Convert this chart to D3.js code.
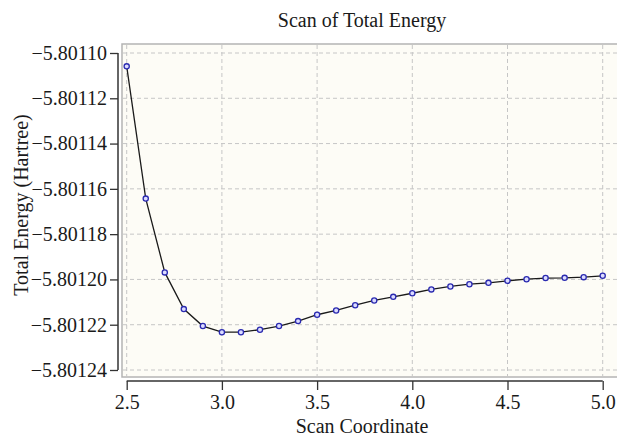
<!DOCTYPE html>
<html>
<head>
<meta charset="utf-8">
<script src="https://cdn.jsdelivr.net/npm/d3@7"></script>
<style>
  html, body { margin: 0; padding: 0; background: #fff; }
  svg { display: block; }
  text { font-family: "Liberation Serif", "Times New Roman", serif; fill: #1a1a1a; }
</style>
</head>
<body>
<svg id="chart" width="617" height="438"></svg>
<script>
const title = "Scan of Total Energy";
const xLabel = "Scan Coordinate";
const yLabel = "Total Energy (Hartree)";

const scanCoord = [2.5, 2.6, 2.7, 2.8, 2.9, 3.0, 3.1, 3.2, 3.3, 3.4, 3.5, 3.6, 3.7, 3.8, 3.9, 4.0, 4.1, 4.2, 4.3, 4.4, 4.5, 4.6, 4.7, 4.8, 4.9, 5.0];
const energy = [-5.8011059, -5.8011643, -5.8011969, -5.8012131, -5.8012206, -5.8012233, -5.8012233, -5.8012222, -5.8012206, -5.8012184, -5.8012156, -5.8012137, -5.8012114, -5.8012093, -5.8012077, -5.8012061, -5.8012044, -5.8012031, -5.8012021, -5.8012015, -5.8012006, -5.8011999, -5.8011994, -5.8011993, -5.8011990, -5.8011984];

const xMajorTicks = [2.5, 3.0, 3.5, 4.0, 4.5, 5.0];
const yMajorTicks = [-5.80110, -5.80112, -5.80114, -5.80116, -5.80118, -5.80120, -5.80122, -5.80124];
const xMinorStep = 0.05;
const yMinorStep = 0.00001;

const svg = d3.select("#chart");

const x = d3.scaleLinear().domain([2.5, 5.0]).range([126.7, 602.7]);
const y = d3.scaleLinear().domain([-5.80124, -5.80110]).range([370, 53]);

const frame = { left: 122, top: 44, bottom: 377, right: 630 };

// plot background
svg.append("rect")
  .attr("x", frame.left).attr("y", frame.top)
  .attr("width", frame.right - frame.left).attr("height", frame.bottom - frame.top)
  .attr("fill", "#fdfcf6")
  .attr("stroke", "#b4b4b4").attr("stroke-width", 1.5);

// grid
const grid = svg.append("g").attr("stroke", "#c6c6c6").attr("stroke-width", 1).attr("stroke-dasharray", "4,3");
grid.selectAll("line.gx").data(xMajorTicks).join("line")
  .attr("x1", d => x(d)).attr("x2", d => x(d))
  .attr("y1", frame.top + 1).attr("y2", frame.bottom - 1);
grid.selectAll("line.gy").data(yMajorTicks).join("line")
  .attr("y1", d => y(d)).attr("y2", d => y(d))
  .attr("x1", frame.left + 1).attr("x2", frame.right);

// minor tick values
const xMinor = d3.range(0, Math.round((5.0 - 2.5) / xMinorStep) + 1).map(i => 2.5 + i * xMinorStep);
const yMinor = d3.range(0, Math.round(0.00014 / yMinorStep) + 1).map(i => -5.80124 + i * yMinorStep);

// y axis
const yAxisG = svg.append("g").attr("transform", "translate(118,0)");
yAxisG.call(d3.axisLeft(y).tickValues(yMinor).tickSize(5).tickFormat(""));
yAxisG.call(d3.axisLeft(y).tickValues(yMajorTicks).tickSize(8).tickPadding(3).tickFormat(d3.format(".5f")));
yAxisG.selectAll("path.domain").attr("stroke", "#333").attr("stroke-width", 1.5);
yAxisG.selectAll("line").attr("stroke", "#333").attr("stroke-width", 1.3);
yAxisG.selectAll("text").style("font-size", "20px").attr("fill", "#1a1a1a")
  .style("font-family", "'Liberation Serif', 'Times New Roman', serif");
yAxisG.selectAll("path.domain").attr("d", `M0,${y(-5.80110)}V${y(-5.80124)}`);

// x axis
const xAxisG = svg.append("g").attr("transform", "translate(0,381)");
xAxisG.call(d3.axisBottom(x).tickValues(xMinor).tickSize(5).tickFormat(""));
xAxisG.call(d3.axisBottom(x).tickValues(xMajorTicks).tickSize(9).tickPadding(5).tickFormat(d3.format(".1f")));
xAxisG.selectAll("path.domain").attr("stroke", "#333").attr("stroke-width", 1.5)
  .attr("d", `M${x(2.5)},0H${x(5.0)}`);
xAxisG.selectAll("line").attr("stroke", "#333").attr("stroke-width", 1.3);
xAxisG.selectAll("text").style("font-size", "20px").attr("fill", "#1a1a1a")
  .style("font-family", "'Liberation Serif', 'Times New Roman', serif");

// data line
const pts = scanCoord.map((c, i) => [c, energy[i]]);
svg.append("path")
  .datum(pts)
  .attr("fill", "none").attr("stroke", "#1a1a1a").attr("stroke-width", 1.3)
  .attr("d", d3.line().x(d => x(d[0])).y(d => y(d[1])));

svg.append("g").selectAll("circle").data(pts).join("circle")
  .attr("cx", d => x(d[0])).attr("cy", d => y(d[1])).attr("r", 2.6)
  .attr("fill", "#dcdcff").attr("stroke", "#2a2ab0").attr("stroke-width", 1.3);

// titles
svg.append("text").attr("x", 362).attr("y", 27).attr("text-anchor", "middle")
  .style("font-size", "20px").text(title);
svg.append("text").attr("x", 362).attr("y", 433).attr("text-anchor", "middle")
  .style("font-size", "20px").text(xLabel);
svg.append("text").attr("transform", "translate(28,205) rotate(-90)").attr("text-anchor", "middle")
  .style("font-size", "20px").text(yLabel);
</script>
</body>
</html>
